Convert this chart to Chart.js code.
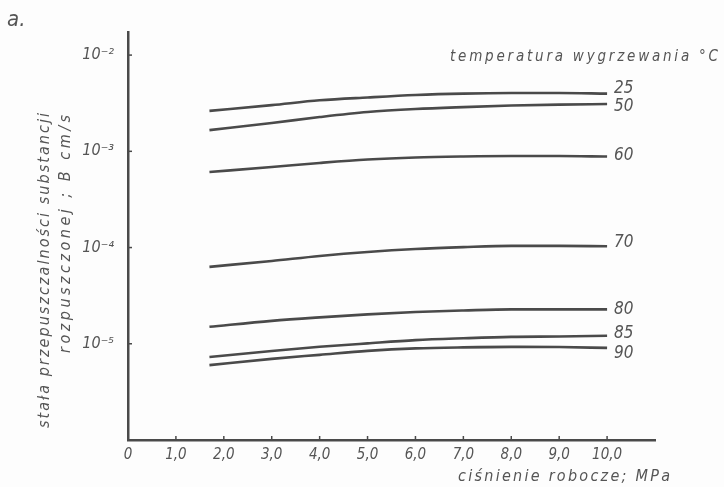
<!DOCTYPE html>
<html>
<head>
<meta charset="utf-8">
<script src="https://cdn.jsdelivr.net/npm/chart.js@4.4.1/dist/chart.umd.min.js"></script>
<style>
  html, body { margin: 0; padding: 0; background: #fdfdfd; }
  canvas { display: block; }
</style>
</head>
<body>
<canvas id="chart" width="724" height="487"></canvas>
<script>
// annealing temperature of each curve, °C
const temperatures = ["25", "50", "60", "70", "80", "85", "90"];
// operating pressure, MPa
const pressure = [1.7, 3, 4, 5, 6, 7, 8, 9, 10];
// permeability constant of the dissolved substance B, cm/s
const b25 = [2.63e-3, 3.02e-3, 3.39e-3, 3.63e-3, 3.85e-3, 3.98e-3, 4.03e-3, 4.03e-3, 3.98e-3];
const b50 = [1.66e-3, 1.97e-3, 2.27e-3, 2.56e-3, 2.75e-3, 2.88e-3, 2.99e-3, 3.06e-3, 3.10e-3];
const b60 = [6.1e-4, 6.87e-4, 7.57e-4, 8.22e-4, 8.63e-4, 8.83e-4, 8.93e-4, 8.93e-4, 8.83e-4];
const b70 = [6.3e-5, 7.26e-5, 8.18e-5, 9.0e-5, 9.66e-5, 1.01e-4, 1.04e-4, 1.04e-4, 1.03e-4];
const b80 = [1.5e-5, 1.73e-5, 1.88e-5, 2.02e-5, 2.14e-5, 2.22e-5, 2.28e-5, 2.28e-5, 2.28e-5];
const b85 = [7.3e-6, 8.4e-6, 9.3e-6, 1.01e-5, 1.09e-5, 1.14e-5, 1.18e-5, 1.19e-5, 1.21e-5];
const b90 = [6.0e-6, 6.97e-6, 7.67e-6, 8.43e-6, 8.95e-6, 9.18e-6, 9.29e-6, 9.25e-6, 9.06e-6];

const yTicks = [1e-5, 1e-4, 1e-3, 1e-2];
const yTickLabels = ["10⁻⁵", "10⁻⁴", "10⁻³", "10⁻²"];
const xTicks = [0, 1, 2, 3, 4, 5, 6, 7, 8, 9, 10];
const xTickLabels = ["0", "1,0", "2,0", "3,0", "4,0", "5,0", "6,0", "7,0", "8,0", "9,0", "10,0"];

const ink = "#4a4a4a";
const textInk = "#555";
const fontFamily = "'DejaVu Sans Condensed', 'DejaVu Sans', sans-serif";

const series = [b25, b50, b60, b70, b80, b85, b90];
// vertical nudge of each end label relative to its curve
const labelShift = [-5, 3, -1, -4, 0, -2, 6];

function fitText(ctx, text, x, y, width) {
    ctx.letterSpacing = "0px";
    const w = ctx.measureText(text).width;
    const gap = Math.max(0, (width - w) / (text.length - 1));
    ctx.letterSpacing = gap + "px";
    ctx.fillText(text, x, y);
    ctx.letterSpacing = "0px";
}

const annotations = {
    id: "annotations",
    afterDraw(chart) {
        const ctx = chart.ctx;
        const xs = chart.scales.x;
        const ys = chart.scales.y;
        ctx.save();

        // small inner tick marks
        ctx.strokeStyle = ink;
        ctx.lineWidth = 1.5;
        yTicks.forEach(v => {
            const py = ys.getPixelForValue(v);
            ctx.beginPath();
            ctx.moveTo(xs.left, py);
            ctx.lineTo(xs.left + 4, py);
            ctx.stroke();
        });
        xTicks.slice(1).forEach(v => {
            const px = xs.getPixelForValue(v);
            ctx.beginPath();
            ctx.moveTo(px, ys.bottom);
            ctx.lineTo(px, ys.bottom - 4);
            ctx.stroke();
        });

        ctx.fillStyle = textInk;

        // temperature at the end of each curve
        ctx.font = "italic 17px " + fontFamily;
        ctx.textAlign = "left";
        ctx.textBaseline = "middle";
        chart.data.datasets.forEach((ds, i) => {
            const pts = chart.getDatasetMeta(i).data;
            const last = pts[pts.length - 1];
            ctx.fillText(temperatures[i], last.x + 7, last.y + labelShift[i]);
        });

        // panel letter
        ctx.font = "italic 22px " + fontFamily;
        ctx.textBaseline = "alphabetic";
        ctx.fillText("a.", 7, 26);

        ctx.font = "italic 15px " + fontFamily;
        ctx.textBaseline = "middle";
        fitText(ctx, "temperatura wygrzewania °C", 450, 57, 268);

        ctx.font = "italic 16px " + fontFamily;
        fitText(ctx, "ciśnienie robocze; MPa", 458, 477, 212);

        // rotated y-axis title, two lines
        ctx.save();
        ctx.translate(45, 428);
        ctx.rotate(-Math.PI / 2);
        ctx.font = "italic 16px " + fontFamily;
        fitText(ctx, "stała przepuszczalności substancji", 0, 0, 315);
        ctx.restore();

        ctx.save();
        ctx.translate(66, 353);
        ctx.rotate(-Math.PI / 2);
        ctx.font = "italic 16px " + fontFamily;
        fitText(ctx, "rozpuszczonej ; B cm/s", 0, 0, 238);
        ctx.restore();

        ctx.restore();
    }
};

new Chart(document.getElementById("chart"), {
    type: "line",
    data: {
        datasets: series.map((vals, i) => ({
            label: temperatures[i],
            data: pressure.map((p, j) => ({ x: p, y: vals[j] })),
            borderColor: ink,
            borderWidth: 2.6,
            pointRadius: 0,
            fill: false,
            cubicInterpolationMode: "monotone"
        }))
    },
    options: {
        responsive: false,
        animation: false,
        devicePixelRatio: 1,
        layout: { padding: { left: 0, top: 32, right: 69, bottom: 0 } },
        plugins: {
            legend: { display: false },
            tooltip: { enabled: false }
        },
        scales: {
            x: {
                type: "linear",
                min: 0,
                max: 11,
                grid: { display: false, drawTicks: false },
                border: { display: true, color: ink, width: 2.5 },
                afterBuildTicks(scale) {
                    scale.ticks = xTicks.map(v => ({ value: v }));
                },
                afterFit(scale) { scale.height = 47; },
                ticks: {
                    padding: 6,
                    color: textInk,
                    font: { family: fontFamily, size: 15, style: "italic" },
                    maxRotation: 0,
                    autoSkip: false,
                    callback: (v) => xTickLabels[xTicks.indexOf(v)]
                }
            },
            y: {
                type: "logarithmic",
                min: 1e-6,
                max: Math.pow(10, -1.76),
                grid: { display: false, drawTicks: false },
                border: { display: true, color: ink, width: 2.5 },
                afterBuildTicks(scale) {
                    scale.ticks = yTicks.map(v => ({ value: v }));
                },
                afterFit(scale) { scale.width = 128; },
                ticks: {
                    padding: 14,
                    color: textInk,
                    font: { family: fontFamily, size: 16, style: "italic" },
                    callback: (v) => yTickLabels[yTicks.indexOf(v)]
                }
            }
        }
    },
    plugins: [annotations]
});
</script>
</body>
</html>
